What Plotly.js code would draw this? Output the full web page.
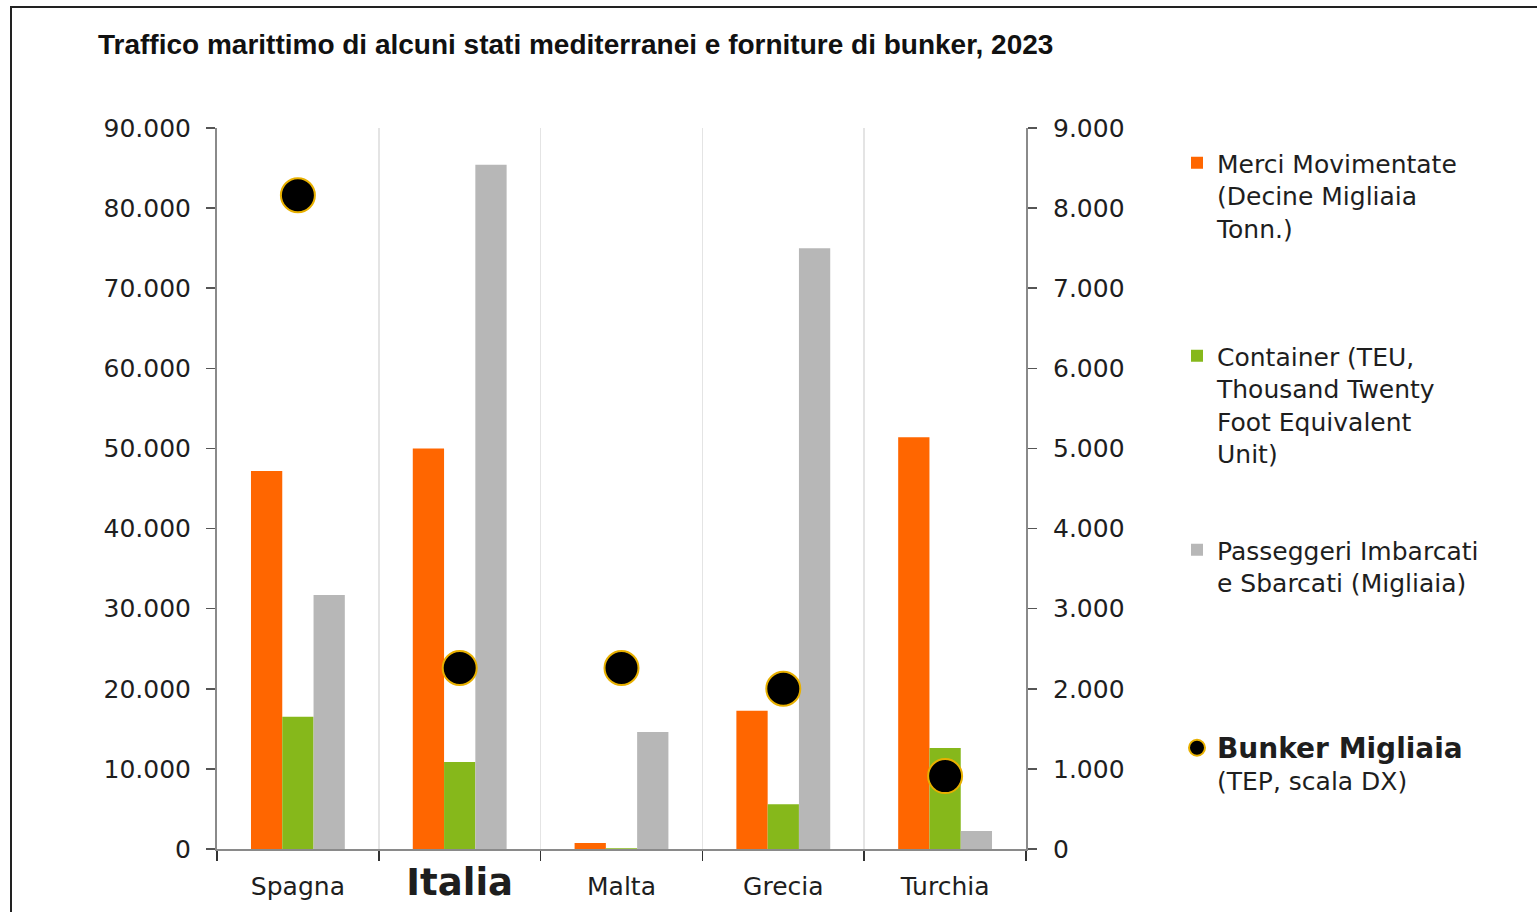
<!DOCTYPE html>
<html>
<head>
<meta charset="utf-8">
<script src="https://cdn.plot.ly/plotly-3.0.1.min.js"></script>
<style>
  html, body { margin: 0; padding: 0; background: #fff; }
  #frame { position: absolute; left: 10px; top: 6px; width: 1540px; height: 920px;
           border-top: 2px solid #222; border-left: 2px solid #222; pointer-events: none; }
  #chart { width: 1537px; height: 912px; }
</style>
</head>
<body>
<div id="chart"></div>
<div id="frame"></div>
<script>
// ---- data ----
const categories = ['Spagna', 'Italia', 'Malta', 'Grecia', 'Turchia'];
const tickLabels = ['Spagna', '<b><span style="font-size:37px">Italia</span></b>', 'Malta', 'Grecia', 'Turchia'];
const merci = [47200, 50000, 750, 17250, 51400];        // Merci Movimentate (Decine Migliaia Tonn.)
const container = [16500, 10850, 80, 5600, 12600];     // Container (TEU)
const passeggeri = [31700, 85400, 14600, 75000, 2250]; // Passeggeri Imbarcati e Sbarcati (Migliaia)
const bunker = [8160, 2260, 2260, 2000, 910];          // Bunker Migliaia (TEP, scala DX)

const names = [
  'Merci Movimentate<br>(Decine Migliaia<br>Tonn.)',
  'Container (TEU,<br>Thousand Twenty<br>Foot Equivalent<br>Unit)',
  'Passeggeri Imbarcati<br>e Sbarcati (Migliaia)',
  '<b><span style="font-size:28px">Bunker Migliaia</span></b><br>(TEP, scala DX)'
];

const FONT = 'DejaVu Sans, Verdana, sans-serif';
const TXT = '#1e1e1e';

const traces = [
  { type: 'bar', x: categories, y: merci, name: names[0], marker: { color: '#FF6600' }, legend: 'legend' },
  { type: 'bar', x: categories, y: container, name: names[1], marker: { color: '#86B81B' }, legend: 'legend2' },
  { type: 'bar', x: categories, y: passeggeri, name: names[2], marker: { color: '#B7B7B7' }, legend: 'legend3' },
  { type: 'scatter', mode: 'markers', x: categories, y: bunker, yaxis: 'y2', name: names[3],
    marker: { color: '#000000', size: 34, line: { color: '#E8B000', width: 2 } }, legend: 'legend4' }
];

function leg(topPx) {
  return {
    xref: 'container', yref: 'container',
    x: 1177 / 1537, y: 1 - topPx / 912, xanchor: 'left', yanchor: 'top',
    bgcolor: 'rgba(0,0,0,0)', borderwidth: 0, valign: 'top',
    font: { family: FONT, size: 25, color: TXT }
  };
}

const layout = {
  width: 1537, height: 912,
  paper_bgcolor: '#ffffff', plot_bgcolor: '#ffffff',
  separators: ',.',
  margin: { l: 217, r: 511, t: 128, b: 63, autoexpand: false },
  title: {
    text: '<b>Traffico marittimo di alcuni stati mediterranei e forniture di bunker, 2023</b>',
    font: { family: 'Liberation Sans, sans-serif', size: 28, color: '#111' },
    xref: 'container', yref: 'container', x: 98 / 1537, xanchor: 'left',
    y: 1 - 44 / 912, yanchor: 'middle'
  },
  barmode: 'group', bargap: 0.42, bargroupgap: 0,
  xaxis: {
    type: 'category', tickmode: 'array', tickvals: categories, ticktext: tickLabels,
    tickson: 'boundaries', ticks: 'outside', ticklen: 10, tickcolor: '#333', tickwidth: 1.5,
    ticklabelstandoff: 14,
    showgrid: true, gridcolor: '#e4e4e4', gridwidth: 1.5,
    showline: true, linecolor: '#8a8a8a', linewidth: 2,
    tickfont: { family: FONT, size: 25, color: TXT },
    zeroline: false, fixedrange: true
  },
  yaxis: {
    range: [0, 90000], dtick: 10000, tick0: 0, tickformat: ',.0f',
    ticks: 'outside', ticklen: 9, tickcolor: '#555', tickwidth: 1.5, ticklabelstandoff: 10,
    showgrid: false, zeroline: false,
    showline: true, linecolor: '#8a8a8a', linewidth: 2,
    tickfont: { family: FONT, size: 25, color: TXT }
  },
  yaxis2: {
    overlaying: 'y', side: 'right',
    range: [0, 9000], dtick: 1000, tick0: 0, tickformat: ',.0f',
    ticks: 'outside', ticklen: 9, tickcolor: '#555', tickwidth: 1.5, ticklabelstandoff: 11,
    showgrid: false, zeroline: false,
    showline: true, linecolor: '#8a8a8a', linewidth: 2,
    tickfont: { family: FONT, size: 25, color: TXT }
  },
  legend: leg(140),
  legend2: leg(333),
  legend3: leg(527),
  legend4: leg(725),
  showlegend: true
};

Plotly.newPlot('chart', traces, layout, { staticPlot: true, displayModeBar: false });
</script>
</body>
</html>
